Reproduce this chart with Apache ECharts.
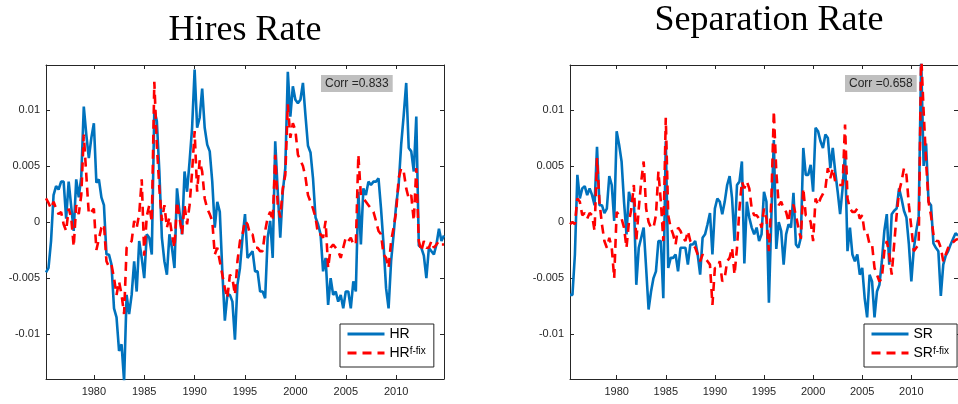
<!DOCTYPE html>
<html>
<head>
<meta charset="utf-8">
<script src="https://cdn.jsdelivr.net/npm/echarts@6/dist/echarts.min.js"></script>
<style>html,body{margin:0;padding:0;background:#fff}#c{width:958px;height:404px}</style>
</head>
<body>
<div id="c"></div>
<script>
// Quarterly sample: first quarter and step (years)
const START = 1975.25;
const STEP = 0.25;
const X_MIN = 1975.25;
const X_MAX = 2014.75;
const YEAR_TICKS = [1980, 1985, 1990, 1995, 2000, 2005, 2010];
const Y_TICKS = [-0.01, -0.005, 0, 0.005, 0.01];
const Y_MIN = -0.014, Y_MAX = 0.014;

// Hires rate (actual)
const HR = [
 -4.5e-3,-4.1e-3,-1.7e-3,
 2.4e-3,3.2e-3,2.9e-3,3.6e-3,
 3.6e-3,0.3e-3,3.6e-3,1.4e-3,
 -0.8e-3,3.8e-3,2.2e-3,4.0e-3,
 10.3e-3,7.8e-3,5.7e-3,7.5e-3,
 8.8e-3,3.5e-3,3.8e-3,2.2e-3,
 1.5e-3,-2.9e-3,-2.9e-3,-3.8e-3,
 -7.7e-3,-8.5e-3,-11.5e-3,-10.9e-3,
 -14.2e-3,-6.5e-3,-8.2e-3,-6.5e-3,
 -3.5e-3,-6.2e-3,-1.7e-3,-3.2e-3,
 -5.0e-3,-1.1e-3,-1.4e-3,-2.9e-3,
 10.0e-3,9.0e-3,4.5e-3,-1.4e-3,
 -3.5e-3,-4.7e-3,-1.1e-3,-2.3e-3,
 -4.1e-3,3.0e-3,0.9e-3,-1.1e-3,
 4.5e-3,2.7e-3,5.4e-3,8.4e-3,
 13.6e-3,8.4e-3,9.3e-3,11.9e-3,
 8.4e-3,6.9e-3,6.3e-3,3.6e-3,
 -0.5e-3,1.8e-3,0.9e-3,-4.4e-3,
 -8.8e-3,-6.5e-3,-6.5e-3,-7.1e-3,
 -10.5e-3,-5.6e-3,-4.1e-3,-1.4e-3,
 0.7e-3,-3.2e-3,-2.9e-3,-2.6e-3,
 -4.4e-3,-4.4e-3,-6.2e-3,-6.2e-3,
 -6.8e-3,-1.4e-3,0.1e-3,-3.2e-3,
 7.2e-3,2.7e-3,-1.4e-3,2.7e-3,
 4.8e-3,13.4e-3,9.4e-3,12.1e-3,
 10.9e-3,10.6e-3,10.9e-3,12.4e-3,
 9.5e-3,6.8e-3,6.2e-3,3.9e-3,
 0.4e-3,-0.2e-3,-1.1e-3,-4.4e-3,
 -3.2e-3,-7.4e-3,-5.0e-3,-6.5e-3,
 -6.2e-3,-7.1e-3,-6.5e-3,-7.7e-3,
 -6.2e-3,-6.2e-3,-7.7e-3,-5.3e-3,
 -6.2e-3,2.7e-3,-2.0e-3,3.0e-3,
 2.4e-3,3.6e-3,3.3e-3,3.6e-3,
 3.6e-3,3.9e-3,1.2e-3,-2.0e-3,
 -5.9e-3,-7.7e-3,-3.5e-3,-1.1e-3,
 1.5e-3,3.3e-3,6.9e-3,9.5e-3,
 12.4e-3,6.6e-3,6.3e-3,4.5e-3,
 9.4e-3,-2.1e-3,-2.3e-3,-3.0e-3,
 -5.0e-3,-2.3e-3,-2.6e-3,-2.9e-3,
 -2.0e-3,-0.6e-3,-1.7e-3,-1.2e-3
];

// Hires rate, fixed job-finding (counterfactual)
const HR_FFIX = [
 2.1e-3,1.7e-3,1.2e-3,
 1.8e-3,1.2e-3,0.7e-3,0.9e-3,
 -0.2e-3,-0.8e-3,1.2e-3,0.4e-3,
 -2.2e-3,1.5e-3,0.7e-3,2.4e-3,
 7.8e-3,4.2e-3,0.7e-3,0.9e-3,
 1.2e-3,-2.5e-3,-1.5e-3,-0.5e-3,
 -0.2e-3,-3.5e-3,-4.0e-3,-3.8e-3,
 -5.0e-3,-6.5e-3,-5.3e-3,-6.5e-3,
 -8.2e-3,-2.3e-3,-2.0e-3,-1.7e-3,
 0.1e-3,-0.5e-3,0.7e-3,3.8e-3,
 -3.0e-3,0.5e-3,1.5e-3,0.0e-3,
 12.5e-3,6.9e-3,3.0e-3,0.1e-3,
 1.5e-3,-0.5e-3,0.4e-3,-1.1e-3,
 -2.3e-3,1.8e-3,0.4e-3,-1.1e-3,
 1.5e-3,-0.2e-3,1.5e-3,4.5e-3,
 8.1e-3,2.7e-3,5.5e-3,4.5e-3,
 2.1e-3,1.2e-3,0.7e-3,0.1e-3,
 -2.9e-3,-2.3e-3,-3.5e-3,-4.7e-3,
 -5.9e-3,-6.8e-3,-4.7e-3,-5.0e-3,
 -6.5e-3,-3.5e-3,-1.7e-3,-1.1e-3,
 0.1e-3,-0.2e-3,-1.1e-3,-1.1e-3,
 -2.3e-3,-2.3e-3,-2.6e-3,-2.6e-3,
 -0.8e-3,0.4e-3,0.9e-3,0.1e-3,
 6.0e-3,1.5e-3,0.4e-3,3.0e-3,
 4.2e-3,10.5e-3,7.5e-3,8.8e-3,
 8.2e-3,6.0e-3,5.5e-3,5.0e-3,
 4.0e-3,2.4e-3,1.8e-3,1.2e-3,
 0.4e-3,-1.1e-3,-1.1e-3,-1.4e-3,
 0.1e-3,-4.1e-3,-2.3e-3,-2.0e-3,
 -2.3e-3,-2.6e-3,-3.2e-3,-2.3e-3,
 -1.4e-3,-1.7e-3,-1.4e-3,-2.0e-3,
 -2.0e-3,6.0e-3,2.4e-3,2.1e-3,
 1.8e-3,1.5e-3,1.2e-3,0.9e-3,
 0.1e-3,-0.8e-3,-1.1e-3,-2.9e-3,
 -3.2e-3,-4.1e-3,-1.7e-3,-0.5e-3,
 0.9e-3,3.9e-3,4.8e-3,4.5e-3,
 3.0e-3,2.1e-3,2.4e-3,0.1e-3,
 4.8e-3,-1.7e-3,-2.6e-3,-1.7e-3,
 -2.3e-3,-2.3e-3,-1.7e-3,-2.3e-3,
 -2.0e-3,-1.7e-3,-2.0e-3,-2.0e-3
];

// Separation rate (actual)
const SR = [
 -6.5e-3,-6.5e-3,-2.9e-3,
 4.2e-3,2.1e-3,3.0e-3,3.2e-3,
 2.4e-3,3.0e-3,2.4e-3,1.5e-3,
 6.7e-3,1.5e-3,1.5e-3,0.8e-3,
 1.2e-3,4.1e-3,3.3e-3,0.1e-3,
 8.1e-3,6.9e-3,5.4e-3,1.8e-3,
 -1.1e-3,2.7e-3,1.8e-3,2.1e-3,
 -5.6e-3,-2.3e-3,-1.4e-3,-0.5e-3,
 -4.1e-3,-7.8e-3,-6.2e-3,-5.0e-3,
 -4.4e-3,-1.7e-3,-1.7e-3,-6.8e-3,
 7.2e-3,-4.1e-3,-3.2e-3,-3.2e-3,
 -2.9e-3,-4.4e-3,-2.3e-3,-2.3e-3,
 -2.3e-3,-3.8e-3,-2.0e-3,-2.0e-3,
 -1.7e-3,-2.9e-3,-4.7e-3,-1.4e-3,
 -1.1e-3,-0.2e-3,0.8e-3,-2.9e-3,
 1.2e-3,2.1e-3,1.8e-3,0.7e-3,
 1.8e-3,3.3e-3,4.1e-3,2.1e-3,
 -1.7e-3,3.3e-3,3.6e-3,5.4e-3,
 -3.7e-3,1.8e-3,0.4e-3,-0.5e-3,
 -1.1e-3,-0.5e-3,-1.7e-3,-1.1e-3,
 2.7e-3,1.8e-3,-7.2e-3,0.5e-3,
 7.3e-3,-2.4e-3,0.0e-3,-0.8e-3,
 -3.8e-3,-1.1e-3,-0.2e-3,-0.5e-3,
 2.6e-3,-2.0e-3,-2.3e-3,-1.4e-3,
 6.6e-3,4.2e-3,4.2e-3,5.1e-3,
 2.7e-3,8.4e-3,8.1e-3,7.2e-3,
 6.6e-3,7.8e-3,7.5e-3,4.8e-3,
 6.6e-3,4.5e-3,2.7e-3,0.7e-3,
 3.0e-3,6.2e-3,-2.6e-3,-0.5e-3,
 -2.9e-3,-3.5e-3,-2.9e-3,-4.7e-3,
 -4.1e-3,-6.8e-3,-8.5e-3,-4.7e-3,
 -5.3e-3,-8.5e-3,-6.2e-3,-5.6e-3,
 -3.5e-3,-0.8e-3,0.7e-3,-3.8e-3,
 0.7e-3,1.0e-3,1.2e-3,3.0e-3,
 2.1e-3,1.0e-3,0.4e-3,-2.0e-3,
 -5.3e-3,-2.4e-3,-0.8e-3,0.5e-3,
 14.5e-3,5.0e-3,7.0e-3,1.8e-3,
 1.5e-3,-1.9e-3,-2.3e-3,-2.6e-3,
 -6.6e-3,-3.8e-3,-3.0e-3,-2.6e-3,
 -2.0e-3,-1.5e-3,-1.0e-3,-1.2e-3
];

// Separation rate, fixed job-finding (counterfactual)
const SR_FFIX = [
 -0.2e-3,0.0e-3,-0.2e-3,
 2.1e-3,1.8e-3,0.6e-3,0.8e-3,
 0.3e-3,0.8e-3,0.6e-3,-0.8e-3,
 5.7e-3,1.8e-3,-0.2e-3,-1.7e-3,
 -2.3e-3,-1.4e-3,-2.3e-3,-5.0e-3,
 0.9e-3,0.6e-3,0.3e-3,-0.5e-3,
 -2.3e-3,0.0e-3,1.2e-3,3.3e-3,
 -1.7e-3,1.2e-3,3.6e-3,5.4e-3,
 1.2e-3,0.0e-3,-0.5e-3,-0.5e-3,
 0.6e-3,4.5e-3,1.8e-3,-1.7e-3,
 9.3e-3,0.6e-3,-0.5e-3,-1.1e-3,
 -2.0e-3,-0.5e-3,-0.8e-3,-1.4e-3,
 -1.7e-3,-0.8e-3,-1.7e-3,-2.0e-3,
 -2.3e-3,-2.9e-3,-3.5e-3,-2.9e-3,
 -3.2e-3,-3.5e-3,-3.8e-3,-7.4e-3,
 -4.1e-3,-4.1e-3,-3.5e-3,-5.3e-3,
 -5.0e-3,-3.5e-3,-3.2e-3,-2.3e-3,
 -4.7e-3,-2.3e-3,1.2e-3,3.6e-3,
 3.0e-3,3.6e-3,3.0e-3,1.2e-3,
 0.6e-3,0.6e-3,0.3e-3,-0.5e-3,
 1.2e-3,0.3e-3,-2.6e-3,2.0e-3,
 9.9e-3,4.5e-3,1.5e-3,1.8e-3,
 1.2e-3,0.9e-3,0.0e-3,1.5e-3,
 1.5e-3,0.6e-3,-0.5e-3,-1.5e-3,
 3.0e-3,0.6e-3,0.5e-3,0.0e-3,
 -1.7e-3,2.1e-3,1.5e-3,2.1e-3,
 2.5e-3,3.0e-3,4.8e-3,3.9e-3,
 4.8e-3,3.6e-3,3.3e-3,3.3e-3,
 3.3e-3,8.7e-3,2.1e-3,1.2e-3,
 0.9e-3,0.9e-3,1.2e-3,0.3e-3,
 0.6e-3,-1.0e-3,-1.0e-3,-2.0e-3,
 -2.0e-3,-4.1e-3,-4.7e-3,-5.3e-3,
 -5.0e-3,-2.6e-3,-1.7e-3,-2.9e-3,
 -4.7e-3,-2.0e-3,0.6e-3,2.7e-3,
 3.6e-3,4.8e-3,4.2e-3,1.5e-3,
 -0.5e-3,-2.6e-3,-2.3e-3,-2.0e-3,
 15.0e-3,9.9e-3,5.4e-3,1.8e-3,
 0.6e-3,-1.1e-3,-1.7e-3,-1.7e-3,
 -2.3e-3,-3.5e-3,-2.9e-3,-2.3e-3,
 -2.0e-3,-1.8e-3,-1.6e-3,-1.5e-3
];

const TITLES = ['Hires Rate', 'Separation Rate'];
const TITLE_Y = [31, 21];
const CORR = ['Corr =0.833', 'Corr =0.658'];
const NAMES = [['HR', 'HRf-fix'], ['SR', 'SRf-fix']];

const dates = HR.map((_, i) => START + STEP * i);
const pairs = arr => arr.map((v, i) => [dates[i], v]);

const FONT = '"Liberation Sans", Arial, Helvetica, sans-serif';
const AX = '#262626';
const BLUE = '#0072BD';
const RED = '#FF0000';
const GRIDS = [{left: 46, top: 65, width: 398, height: 314}, {left: 570, top: 65, width: 398, height: 314}];

const fmtY = v => { const r = Math.round(v * 1000) / 1000; return r === 0 ? '0' : String(r); };

const xAxes = [], yAxes = [], series = [], legends = [], graphics = [];
const panelData = [[HR, HR_FFIX], [SR, SR_FFIX]];

GRIDS.forEach((g, gi) => {
  ['bottom', 'top'].forEach((pos, k) => {
    xAxes.push({
      gridIndex: gi, type: 'value', position: pos, min: X_MIN, max: X_MAX,
      axisLine: {show: true, onZero: false, lineStyle: {color: AX, width: 1}},
      axisTick: {show: true, inside: true, length: 4, customValues: YEAR_TICKS, lineStyle: {color: AX, width: 1}},
      axisLabel: {show: k === 0, customValues: YEAR_TICKS, color: AX, fontSize: 11, fontFamily: FONT, margin: 7, formatter: v => String(v)},
      splitLine: {show: false}
    });
  });
  ['left', 'right'].forEach((pos, k) => {
    yAxes.push({
      gridIndex: gi, type: 'value', position: pos, min: Y_MIN, max: Y_MAX,
      axisLine: {show: true, onZero: false, lineStyle: {color: AX, width: 1}},
      axisTick: {show: true, inside: true, length: 4, customValues: Y_TICKS, lineStyle: {color: AX, width: 1}},
      axisLabel: {show: k === 0, customValues: Y_TICKS, color: AX, fontSize: 11, fontFamily: FONT, margin: 6, formatter: fmtY},
      splitLine: {show: false}
    });
  });
  const [actual, ffix] = panelData[gi];
  const [n1, n2] = NAMES[gi];
  series.push({
    type: 'line', name: n1, xAxisIndex: gi * 2, yAxisIndex: gi * 2,
    data: pairs(actual), symbol: 'none', clip: true, z: 2,
    lineStyle: {color: BLUE, width: 2.6}, itemStyle: {color: BLUE}
  });
  series.push({
    type: 'line', name: n2, xAxisIndex: gi * 2, yAxisIndex: gi * 2,
    data: pairs(ffix), symbol: 'none', clip: true, z: 3,
    lineStyle: {color: RED, width: 2.6, type: [9, 6]}, itemStyle: {color: RED}
  });
  legends.push({
    data: [n1, n2], orient: 'vertical',
    left: g.left + g.width - 104, top: 324,
    padding: [3, 8, 5, 6], itemGap: 5, itemWidth: 37, itemHeight: 14,
    borderColor: AX, borderWidth: 1, backgroundColor: '#fff', borderRadius: 0,
    selectedMode: false,
    itemStyle: {opacity: 0},
    lineStyle: {width: 3},
    formatter: name => name.indexOf('f-fix') > 0 ? '{m|' + name.slice(0, 2) + '}{s|f-fix}' : '{m|' + name + '}',
    textStyle: {
      fontFamily: FONT, fontSize: 14, color: '#000',
      rich: {
        m: {fontFamily: FONT, fontSize: 14, color: '#000', lineHeight: 14, verticalAlign: 'bottom'},
        s: {fontFamily: FONT, fontSize: 10, color: '#000', lineHeight: 10, verticalAlign: 'top', padding: [0, 0, 6, 0]}
      }
    }
  });
  graphics.push({
    type: 'text', x: g.left + g.width / 2, y: TITLE_Y[gi],
    style: {text: TITLES[gi], font: '36px "Liberation Serif", "Times New Roman", serif', fill: '#000', textAlign: 'center', textVerticalAlign: 'middle'}
  });
  graphics.push({
    type: 'text', x: g.left + g.width - 123, y: 75, z: 10,
    style: {text: CORR[gi], font: '12px ' + FONT, fill: AX, backgroundColor: '#BFBFBF', padding: [2, 4, 1, 4], lineHeight: 14}
  });
});

const chart = echarts.init(document.getElementById('c'), null, {renderer: 'canvas'});
chart.setOption({
  animation: false,
  backgroundColor: '#fff',
  grid: GRIDS,
  xAxis: xAxes,
  yAxis: yAxes,
  legend: legends,
  series: series,
  graphic: graphics
});
</script>
</body>
</html>
